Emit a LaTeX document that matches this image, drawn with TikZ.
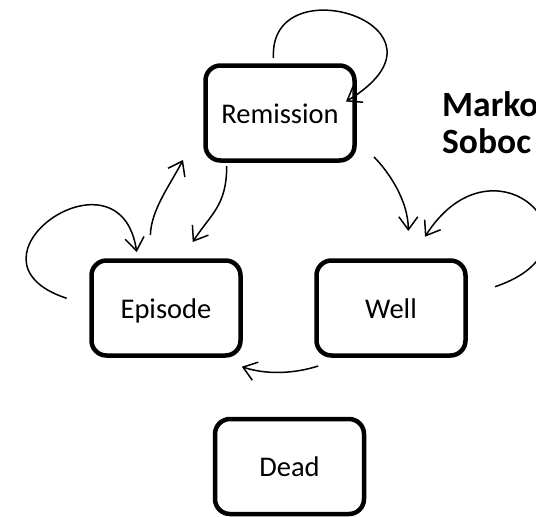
\documentclass[tikz,border=0pt]{standalone}
\usepackage{fontspec}
\setmainfont{Carlito}
\usetikzlibrary{arrows.meta, calc}

\begin{document}
\begin{tikzpicture}[x=1pt,y=-1pt,
  state/.style={draw, line width=4.5pt, rounded corners=15pt, minimum width=149pt, minimum height=95pt, text height=20.5pt, text depth=0pt, font=\fontsize{28.5}{34}\selectfont},
  trans/.style={line width=1.5pt, -{Straight Barb[length=13pt,width=19pt,line width=1.5pt]}},
  heading/.style={anchor=base west, inner sep=0pt, font=\fontsize{35.5}{40}\selectfont\bfseries}]
\useasboundingbox (0,0) rectangle (536,517);
\clip (0,0) rectangle (536,517);
\node[state] (rem) at (280,113) {Remission};
\node[state] (epi) at (166,308) {Episode};
\node[state] (well) at (391,308) {Well};
\node[state] (dead) at (289.5,466.5) {Dead};
\node[heading] (head1) at (442,116) {Marko};
\node[heading] (head2) at (442,153) {Soboc};
\draw[trans] ($(rem.north)+(-6.5,-5.25)$) .. controls +(-5.5,-95) and +(124,-75) .. ($(rem.east)+(-10.75,-11.5)$);
\draw[trans] ($(rem.south)+(-53.3,3.25)$) .. controls +(0,40) and +(18,-28) .. ($(epi.north)+(26.7,-16.25)$);
\draw[trans] ($(epi.north)+(-15.6,-23.25)$) .. controls +(0.6,-25) and +(-13,25) .. ($(rem.south west)+(-20.25,-2.75)$);
\draw[trans] ($(epi.west)+(-22.55,-9.7)$) .. controls +(-116.7,-38.3) and +(-16.7,-112) .. ($(epi.north)+(-29.3,-6.25)$);
\draw[trans] ($(rem.south east)+(17.25,-5.75)$) .. controls +(15,15) and +(0,-30) .. ($(well.north)+(17.3,-27.25)$);
\draw[trans] ($(well.east)+(27.25,-21.3)$) .. controls +(120,-40) and +(70,-110) .. ($(well.north)+(34,-21.55)$);
\draw[trans] ($(well.south west)+(4,8.25)$) .. controls +(-25,8) and +(24,8) .. ($(epi.south east)+(-1,8.95)$);
\end{tikzpicture}
\end{document}
